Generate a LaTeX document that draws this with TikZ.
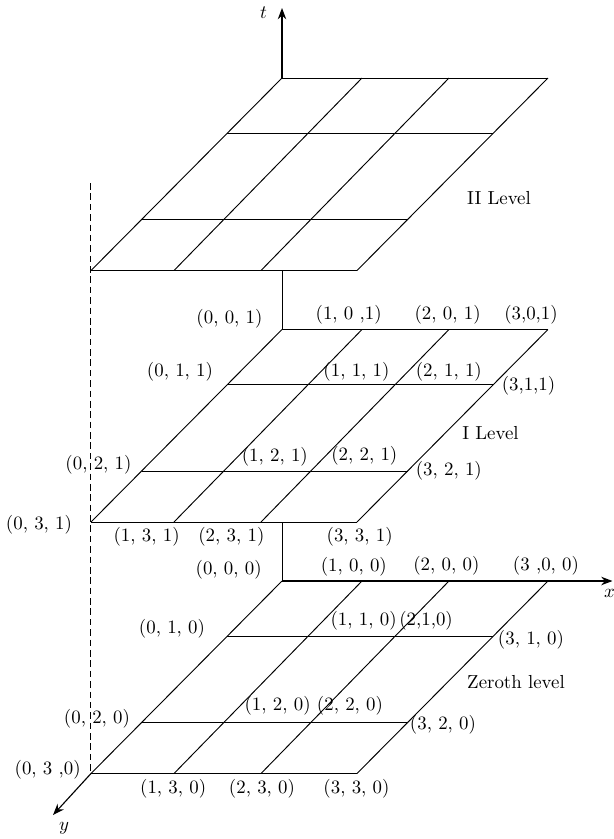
\documentclass[tikz,border=0pt]{standalone}
\usepackage{tikz}
\usetikzlibrary{calc,arrows.meta}

\begin{document}
\begin{tikzpicture}[
        x=0.53pt, y=-0.53pt,
        grid/.style={line width=0.5pt},
        axis/.style={line width=0.6pt, -{Stealth[length=6pt,width=4.5pt]}},
        lbl/.style={inner sep=0pt}
    ]
    \useasboundingbox (0,0) rectangle (613,839);

    % the three levels, same skewed 3x3 grid
    \foreach \lv/\ty in {0/581, 1/329.5, 2/78} {
        \foreach \i/\xt/\xb in {0/282/91, 1/362/174, 2/449/261, 3/548/357} {
            \coordinate (t\lv-\i) at (\xt,\ty);
            \coordinate (b\lv-\i) at (\xb,\ty+192.5);
            \draw[grid] (t\lv-\i) -- (b\lv-\i);
        }
        \draw[grid] (t\lv-0) -- (t\lv-3);
        \draw[grid] (b\lv-0) -- (b\lv-3);
        \draw[grid] ($(t\lv-0)!0.286!(b\lv-0)$) -- ($(t\lv-3)!0.286!(b\lv-3)$);
        \draw[grid] ($(t\lv-0)!0.735!(b\lv-0)$) -- ($(t\lv-3)!0.735!(b\lv-3)$);
    }

    % axes
    \coordinate (tend) at (282,8);
    \coordinate (xend) at (612.5,581);
    \coordinate (yend) at (53,815);
    \coordinate (dtop) at (90.5,183);
    \draw[axis] (t2-0) -- (tend);
    \draw[axis] (t0-0) -- (xend);
    \draw[axis] (b0-0) -- (yend);
    \draw[grid] (t1-0) -- (t1-0 |- b2-0);
    \draw[grid] (t0-0) -- (t0-0 |- b1-0);
    \draw[grid, dash pattern=on 3.5pt off 2pt] (dtop) -- (dtop |- b0-0);

    \node[lbl] (t) at (263.5,13) {$t$};
    \node[lbl] (x) at (609.5,593) {$x$};
    \node[lbl] (y) at (64,828) {$y$};
    \node[lbl] (lv2) at (499,198) {II Level};
    \node[lbl] (lv1) at (490.5,433) {I Level};
    \node[lbl] (lv0) at (516,682) {Zeroth level};

    % I level
    \node[lbl] (p001) at (229.5,319) {(0, 0, 1)};
    \node[lbl] (p101) at (348.7,315) {(1, 0 ,1)};
    \node[lbl] (p201) at (447.6,315) {(2, 0, 1)};
    \node[lbl] (p301) at (531,315) {(3,0,1)};
    \node[lbl] (p011) at (180,371.7) {(0, 1, 1)};
    \node[lbl] (p111) at (356.5,371.7) {(1, 1, 1)};
    \node[lbl] (p211) at (448.8,371.7) {(2, 1, 1)};
    \node[lbl] (p311) at (528.5,386) {(3,1,1)};
    \node[lbl] (p021) at (98.5,465) {(0, 2, 1)};
    \node[lbl] (p121) at (274.8,456.7) {(1, 2, 1)};
    \node[lbl] (p221) at (364.3,455.3) {(2, 2, 1)};
    \node[lbl] (p321) at (448.8,471) {(3, 2, 1)};
    \node[lbl] (p031) at (39,525) {(0, 3, 1)};
    \node[lbl] (p131) at (146.6,536.7) {(1, 3, 1)};
    \node[lbl] (p231) at (231.4,536.7) {(2, 3, 1)};
    \node[lbl] (p331) at (359.7,536.7) {(3, 3, 1)};

    % zeroth level
    \node[lbl] (p000) at (228.7,570) {(0, 0, 0)};
    \node[lbl] (p100) at (353.8,566.7) {(1, 0, 0)};
    \node[lbl] (p200) at (446.4,566) {(2, 0, 0)};
    \node[lbl] (p300) at (546,566) {(3 ,0, 0)};
    \node[lbl] (p010) at (172,628.3) {(0, 1, 0)};
    \node[lbl] (p110) at (363.6,621) {(1, 1, 0)};
    \node[lbl] (p210) at (426.1,621) {(2,1,0)};
    \node[lbl] (p310) at (531,640) {(3, 1, 0)};
    \node[lbl] (p020) at (97,718.3) {(0, 2, 0)};
    \node[lbl] (p120) at (277.6,706) {(1, 2, 0)};
    \node[lbl] (p220) at (350,706) {(2, 2, 0)};
    \node[lbl] (p320) at (443,725) {(3, 2, 0)};
    \node[lbl] (p030) at (47.7,770) {(0, 3 ,0)};
    \node[lbl] (p130) at (173.2,788.3) {(1, 3, 0)};
    \node[lbl] (p230) at (262,788.3) {(2, 3, 0)};
    \node[lbl] (p330) at (356.5,788.3) {(3, 3, 0)};
\end{tikzpicture}
\end{document}
